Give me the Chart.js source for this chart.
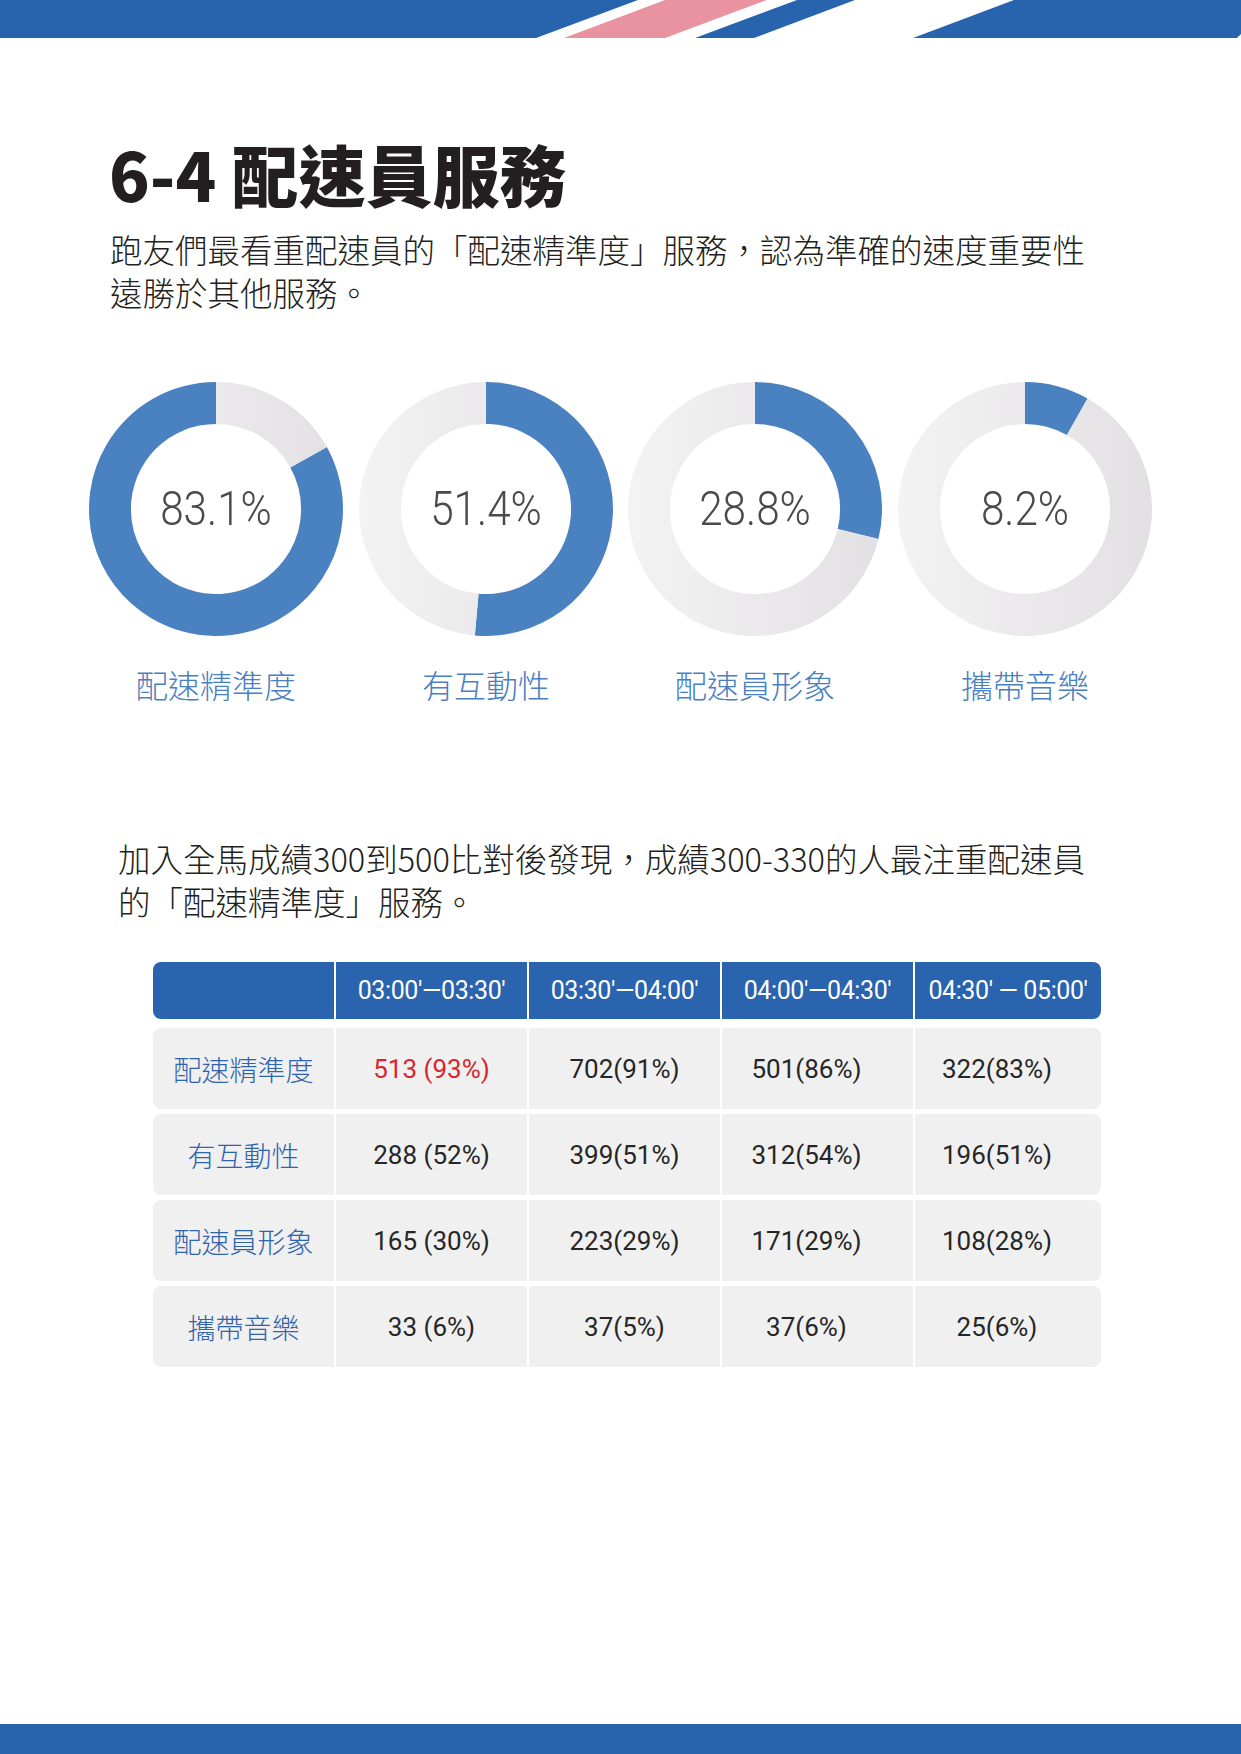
<!DOCTYPE html>
<html lang="zh-Hant">
<head>
<meta charset="utf-8">
<title>6-4 配速員服務</title>
<script src="https://cdn.jsdelivr.net/npm/chart.js@4.4.1/dist/chart.umd.min.js"></script>
<style>
    html, body {
        margin: 0;
        padding: 0;
        background: #fff;
    }
    body {
        position: relative;
        width: 1241px;
        height: 1754px;
        overflow: hidden;
        font-family: "Noto Sans CJK TC", "Noto Sans", sans-serif;
        color: #333;
    }
    #topBar {
        position: absolute;
        left: 0;
        top: 0;
    }
    #bottomBar {
        position: absolute;
        left: 0;
        top: 1724px;
        width: 1241px;
        height: 30px;
        background: #2864ae;
    }
    h1 {
        position: absolute;
        left: 109px;
        top: 139px;
        margin: 0;
        font-size: 67px;
        line-height: 67px;
        font-weight: 900;
        color: #231f20;
        white-space: nowrap;
    }
    .para {
        position: absolute;
        margin: 0;
        font-size: 32.5px;
        line-height: 43px;
        font-weight: 300;
        color: #231f20;
        white-space: nowrap;
    }
    .donut {
        position: absolute;
        top: 382px;
        width: 254px;
        height: 254px;
    }
    .pct {
        position: absolute;
        top: 480px;
        width: 254px;
        text-align: center;
        font-family: Roboto, sans-serif;
        font-weight: 300;
        font-size: 48px;
        line-height: 58px;
        color: #4a4a4a;
        transform: scaleX(0.88);
    }
    .label {
        position: absolute;
        top: 664px;
        width: 254px;
        text-align: center;
        font-size: 32px;
        line-height: 40px;
        font-weight: 300;
        color: #4a80c1;
    }
    #table {
        position: absolute;
        left: 153px;
        top: 962px;
        width: 948px;
    }
    .row {
        display: grid;
        grid-template-columns: 181px 191px 191px 191px 186px;
        column-gap: 2px;
        border-radius: 8px;
        overflow: hidden;
        margin-bottom: 5px;
    }
    .row.head {
        margin-bottom: 9px;
    }
    .cell {
        display: flex;
        align-items: center;
        justify-content: center;
        height: 81px;
        background: #f0f0f0;
        font-family: Roboto, sans-serif;
        font-size: 26px;
        color: #262626;
    }
    .cell.shift {
        padding-right: 22px;
        box-sizing: border-box;
    }
    .head .cell {
        height: 57px;
        background: #2a63ae;
        color: #fff;
        font-size: 25px;
        letter-spacing: -0.4px;
    }
    .cell.name {
        font-family: "Noto Sans CJK TC", sans-serif;
        font-size: 28px;
        font-weight: 300;
        color: #3063ad;
    }
    .cell.hot {
        color: #d7262c;
    }
</style>
</head>
<body>

<svg id="topBar" width="1241" height="38" viewBox="0 0 1241 38">
    <polygon points="0,0 638,0 536,38 0,38" fill="#2864ae"/>
    <polygon points="665,0 767,0 665,38 564,38" fill="#ea93a0"/>
    <polygon points="797,0 855,0 754,38 695,38" fill="#2864ae"/>
    <polygon points="1014,0 1241,0 1241,34 1237,38 913,38" fill="#2864ae"/>
</svg>

<h1>6-4 配速員服務</h1>

<p class="para" style="left:110px; top:227px;">跑友們最看重配速員的「配速精準度」服務，認為準確的速度重要性<br>遠勝於其他服務。</p>

<div id="donuts"></div>

<p class="para" style="left:118px; top:836px;">加入全馬成績300到500比對後發現，成績300-330的人最注重配速員<br>的「配速精準度」服務。</p>

<div id="table"></div>

<div id="bottomBar"></div>

<script>
// 各項服務整體比例 (%)
const services = ["配速精準度", "有互動性", "配速員形象", "攜帶音樂"];
const serviceShare = [83.1, 51.4, 28.8, 8.2];

// 依全馬成績分組
const timeRanges = ["03:00'—03:30'", "03:30'—04:00'", "04:00'—04:30'", "04:30' — 05:00'"];
const precisionCounts = [513, 702, 501, 322];
const precisionShare = [93, 91, 86, 83];
const interactCounts = [288, 399, 312, 196];
const interactShare = [52, 51, 54, 51];
const imageCounts = [165, 223, 171, 108];
const imageShare = [30, 29, 29, 28];
const musicCounts = [33, 37, 37, 25];
const musicShare = [6, 5, 6, 6];

const blue = "#4a81c1";
const donutCenters = [216, 486, 755, 1025];

function grayFill(context) {
    const chart = context.chart;
    const area = chart.chartArea;
    if (!area) {
        return "#e9e8e9";
    }
    const g = chart.ctx.createLinearGradient(area.left, 0, area.right, 0);
    g.addColorStop(0, "#f4f3f4");
    g.addColorStop(1, "#e2e0e2");
    return g;
}

const donutWrap = document.getElementById("donuts");

serviceShare.forEach(function (value, i) {
    const left = donutCenters[i] - 127;

    const canvas = document.createElement("canvas");
    canvas.className = "donut";
    canvas.width = 254;
    canvas.height = 254;
    canvas.style.left = left + "px";
    donutWrap.appendChild(canvas);

    const pct = document.createElement("div");
    pct.className = "pct";
    pct.style.left = left + "px";
    pct.textContent = value.toFixed(1) + "%";
    donutWrap.appendChild(pct);

    const label = document.createElement("div");
    label.className = "label";
    label.style.left = left + "px";
    label.textContent = services[i];
    donutWrap.appendChild(label);

    new Chart(canvas, {
        type: "doughnut",
        data: {
            labels: [services[i], "其他"],
            datasets: [
                {
                    data: [value, 100 - value],
                    backgroundColor: function (context) {
                        return context.dataIndex === 0 ? blue : grayFill(context);
                    },
                    borderWidth: 0,
                },
            ],
        },
        options: {
            responsive: false,
            animation: false,
            cutout: "67%",
            // first ring has its blue part ending at 12 o'clock
            rotation: i === 0 ? (100 - value) * 3.6 : 0,
            layout: { padding: 0 },
            plugins: {
                legend: { display: false },
                tooltip: { enabled: false },
            },
        },
    });
});

// 表格
const tableRows = [
    [precisionCounts, precisionShare],
    [interactCounts, interactShare],
    [imageCounts, imageShare],
    [musicCounts, musicShare],
];

const table = document.getElementById("table");

const head = document.createElement("div");
head.className = "row head";
head.appendChild(document.createElement("div")).className = "cell";
timeRanges.forEach(function (t) {
    const c = document.createElement("div");
    c.className = "cell";
    c.textContent = t;
    head.appendChild(c);
});
table.appendChild(head);

tableRows.forEach(function (pair, r) {
    const row = document.createElement("div");
    row.className = "row";
    const name = document.createElement("div");
    name.className = "cell name";
    name.textContent = services[r];
    row.appendChild(name);
    pair[0].forEach(function (count, c) {
        const cell = document.createElement("div");
        cell.className = "cell" + (r === 0 && c === 0 ? " hot" : "") + (c >= 2 ? " shift" : "");
        const sep = c === 0 ? " " : "";
        cell.textContent = count + sep + "(" + pair[1][c] + "%)";
        row.appendChild(cell);
    });
    table.appendChild(row);
});
</script>
</body>
</html>
